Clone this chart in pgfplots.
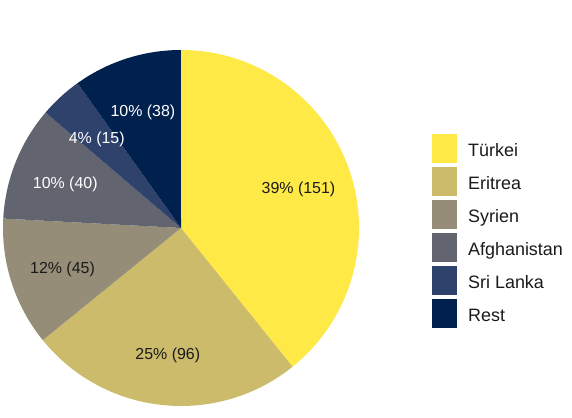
\documentclass[border=0pt]{standalone}
\usepackage{fontspec}
\setmainfont{Liberation Sans}
\usepackage{pgfplots}
\usepackage{pgfplotstable}
\pgfplotsset{compat=1.18}

\definecolor{cTuerkei}{HTML}{FFE946}
\definecolor{cEritrea}{HTML}{CBBB6B}
\definecolor{cSyrien}{HTML}{958D78}
\definecolor{cAfgh}{HTML}{62656F}
\definecolor{cSri}{HTML}{2F426B}
\definecolor{cRest}{HTML}{00214E}
\definecolor{txt}{HTML}{1A1A1A}

% Anzahl Personen nach Herkunft
\pgfplotstableread[col sep=comma]{
land,value,fill,text
Türkei,151,cTuerkei,txt
Eritrea,96,cEritrea,txt
Syrien,45,cSyrien,txt
Afghanistan,40,cAfgh,white
Sri Lanka,15,cSri,white
Rest,38,cRest,white
}\piedata

\newcommand\labelfont{\fontsize{16}{19}\selectfont}
\newcommand\legendfont{\fontsize{18}{21}\selectfont}

\begin{document}
\begin{tikzpicture}
\path[use as bounding box] (0,0) rectangle (572bp,418bp);

\pgfplotstablegetrowsof{\piedata}
\pgfmathtruncatemacro\lastrow{\pgfplotsretval-1}
\def\total{0}
\pgfplotsforeachungrouped \i in {0,...,\lastrow}{%
  \pgfplotstablegetelem{\i}{value}\of\piedata
  \pgfmathsetmacro\total{\total+\pgfplotsretval}}

\begin{axis}[
  at={(181bp,190bp)}, anchor=center,
  scale only axis, width=356bp, height=356bp,
  xmin=-1, xmax=1, ymin=-1, ymax=1,
  hide axis, clip=false,
  legend image code/.code={\fill[#1] (0bp,-12.3bp) rectangle (25bp,16.7bp);},
  legend cell align=left,
  legend style={at={(1.205,0.764)}, anchor=north west, draw=none,
    inner sep=0pt, row sep=4bp, font=\legendfont, text=txt,
    nodes={inner sep=0pt, inner xsep=11bp}},
]
% sectors
\def\startangle{90}
\pgfplotsforeachungrouped \i in {0,...,\lastrow}{%
  \pgfplotstablegetelem{\i}{land}\of\piedata \let\name\pgfplotsretval
  \pgfplotstablegetelem{\i}{value}\of\piedata \let\v\pgfplotsretval
  \pgfplotstablegetelem{\i}{fill}\of\piedata \let\fc\pgfplotsretval
  \pgfmathsetmacro\spanangle{\v/\total*360}
  \pgfmathsetmacro\endangle{\startangle-\spanangle}
  \pgfmathsetmacro\xa{cos(\startangle)}
  \pgfmathsetmacro\ya{sin(\startangle)}
  \edef\cmd{%
    \noexpand\fill[\fc] (axis cs:0,0) -- (axis cs:\xa,\ya)
      arc[start angle=\startangle, end angle=\endangle, radius=178bp] -- cycle;
    \noexpand\addlegendimage{fill=\fc, draw=none}
    \noexpand\addlegendentry{\name}
  }\cmd
  \let\startangle\endangle
}
% labels on top
\def\startangle{90}
\pgfplotsforeachungrouped \i in {0,...,\lastrow}{%
  \pgfplotstablegetelem{\i}{value}\of\piedata \let\v\pgfplotsretval
  \pgfplotstablegetelem{\i}{text}\of\piedata \let\tc\pgfplotsretval
  \pgfmathsetmacro\share{\v/\total}
  \pgfmathsetmacro\spanangle{\share*360}
  \pgfmathsetmacro\midangle{\startangle-\spanangle/2}
  \pgfmathsetmacro\xm{0.7*cos(\midangle)}
  \pgfmathsetmacro\ym{0.7*sin(\midangle)}
  \pgfmathtruncatemacro\pct{round(\share*100)}
  \edef\cmd{%
    \noexpand\node[text=\tc, font=\noexpand\labelfont, yshift=-3bp]
      at (axis cs:\xm,\ym) {\pct\noexpand\% (\v)};
  }\cmd
  \pgfmathsetmacro\startangle{\startangle-\spanangle}
}
\end{axis}
\end{tikzpicture}
\end{document}
